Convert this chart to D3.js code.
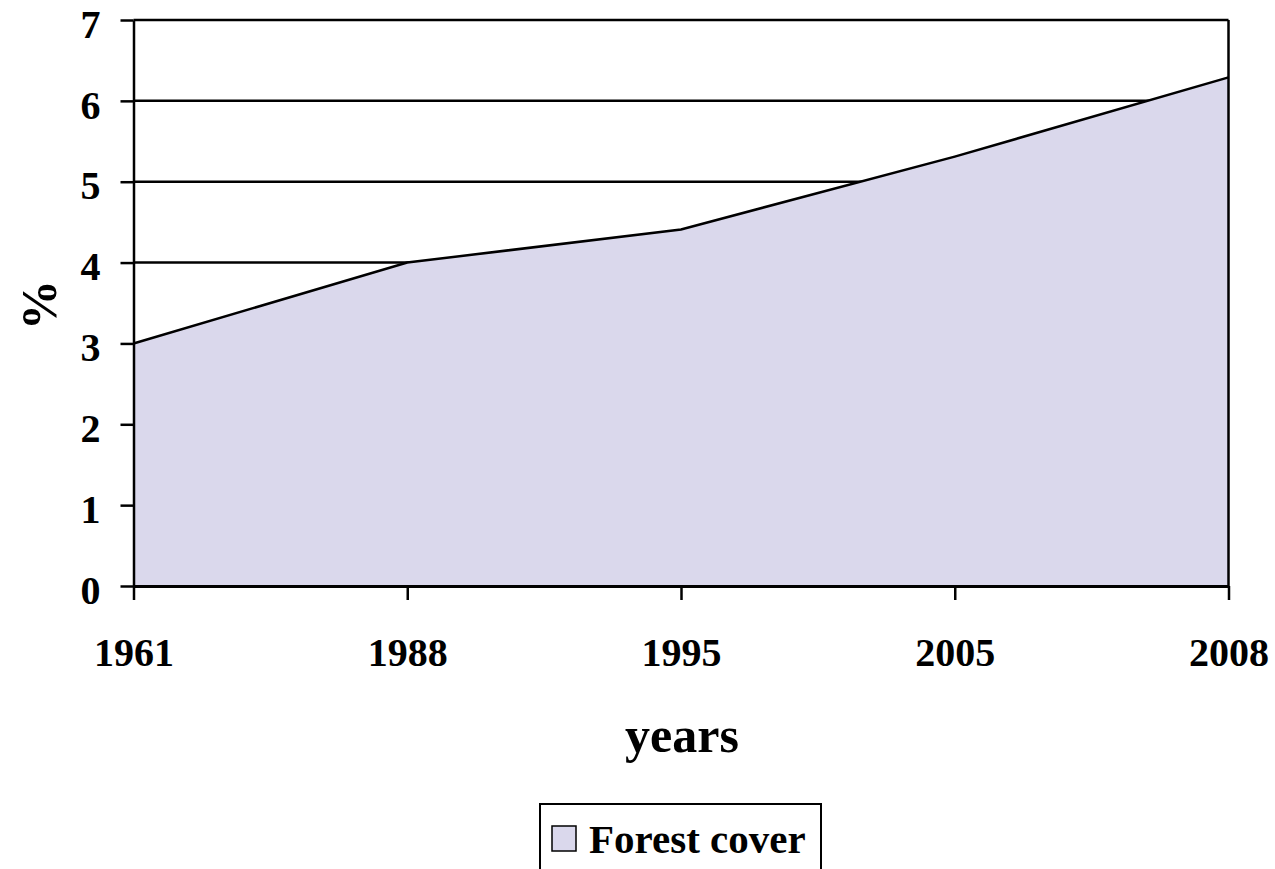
<!DOCTYPE html>
<html>
<head>
<meta charset="utf-8">
<script src="https://cdn.jsdelivr.net/npm/d3@7"></script>
<style>
  body { margin: 0; background: #fff; }
  svg { display: block; }
</style>
</head>
<body>
<script>
// data
var years = ['1961', '1988', '1995', '2005', '2008'];
var forest = [3.0, 4.0, 4.41, 5.31, 6.29];
var yTicks = [0, 1, 2, 3, 4, 5, 6, 7];
var seriesName = 'Forest cover';

var width = 1275, height = 869;
var L = 133.5, R = 1228.5, T = 20, B = 586;
var FONT = '"Liberation Serif", "Times New Roman", serif';
var FILL = '#dad8ec';

var svg = d3.select('body').append('svg')
  .attr('width', width).attr('height', height);

var x = d3.scalePoint().domain(years).range([L, R]);
var y = d3.scaleLinear().domain([0, 7]).range([B, T]);

var pts = years.map(function(d, i) { return { year: d, v: forest[i] }; });

// gridlines (area covers the lower ones)
svg.append('g').selectAll('line')
  .data(yTicks.slice(1))
  .enter().append('line')
  .attr('x1', L).attr('x2', R)
  .attr('y1', function(d) { return y(d); })
  .attr('y2', function(d) { return y(d); })
  .attr('stroke', '#000').attr('stroke-width', 2.5);

// area
var area = d3.area()
  .x(function(d) { return x(d.year); })
  .y0(y(0))
  .y1(function(d) { return y(d.v); });
svg.append('path').datum(pts)
  .attr('d', area)
  .attr('fill', FILL)
  .attr('stroke', 'none');

var line = d3.line()
  .x(function(d) { return x(d.year); })
  .y(function(d) { return y(d.v); });
svg.append('path').datum(pts)
  .attr('d', line)
  .attr('fill', 'none')
  .attr('stroke', '#000')
  .attr('stroke-width', 2.5);

// right border of plot area
svg.append('line')
  .attr('x1', R).attr('x2', R).attr('y1', T).attr('y2', B)
  .attr('stroke', '#000').attr('stroke-width', 2.5);

// y axis
var yAxis = svg.append('g')
  .attr('transform', 'translate(' + L + ',0)')
  .call(d3.axisLeft(y).tickValues(yTicks).tickSize(13).tickPadding(20).tickSizeOuter(0).tickFormat(d3.format('d')));
yAxis.select('.domain').attr('stroke-width', 2.5);
yAxis.selectAll('.tick line').attr('stroke-width', 2.5);
yAxis.selectAll('text')
  .attr('dy', '0.43em')
  .style('font-family', FONT).style('font-size', '40px').style('font-weight', 'bold')
  .attr('fill', '#000');

// x axis
var xAxis = svg.append('g')
  .attr('transform', 'translate(0,' + B + ')')
  .call(d3.axisBottom(x).tickSize(14).tickPadding(38).tickSizeOuter(0));
xAxis.select('.domain').attr('stroke-width', 3);
xAxis.selectAll('.tick line').attr('stroke-width', 2.5);
xAxis.selectAll('text')
  .style('font-family', FONT).style('font-size', '40px').style('font-weight', 'bold')
  .attr('fill', '#000');

// axis titles
svg.append('text')
  .attr('transform', 'translate(56,305) rotate(-90)')
  .attr('text-anchor', 'middle')
  .style('font-family', FONT).style('font-size', '50px').style('font-weight', 'bold')
  .text('%');

svg.append('text')
  .attr('x', 682).attr('y', 752)
  .attr('text-anchor', 'middle')
  .style('font-family', FONT).style('font-size', '50px').style('font-weight', 'bold')
  .text('years');

// legend
var leg = svg.append('g');
leg.append('rect')
  .attr('x', 540).attr('y', 804).attr('width', 281).attr('height', 90)
  .attr('fill', '#fff').attr('stroke', '#000').attr('stroke-width', 2);
leg.append('rect')
  .attr('x', 552).attr('y', 826).attr('width', 24).attr('height', 25)
  .attr('fill', FILL).attr('stroke', '#000').attr('stroke-width', 1.5);
leg.append('text')
  .attr('x', 589).attr('y', 853)
  .style('font-family', FONT).style('font-size', '41px').style('font-weight', 'bold')
  .text(seriesName);
</script>
</body>
</html>
